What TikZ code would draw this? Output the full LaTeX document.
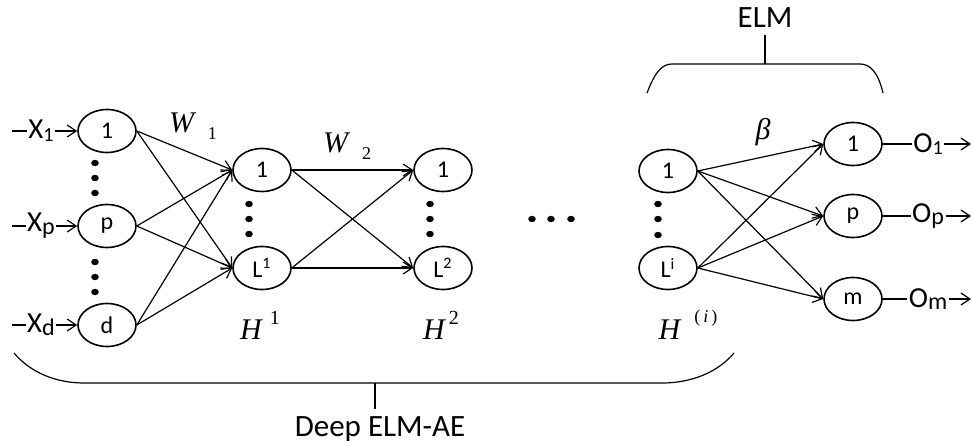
\documentclass[tikz,border=0pt]{standalone}
\usepackage{fontspec}
\setmainfont{Carlito}
\newfontfamily\timesit{Liberation Serif}
\usetikzlibrary{shapes.geometric,arrows.meta}

\tikzset{
  neuron/.style={draw, thick, ellipse, minimum width=29pt, minimum height=21.5pt,
    inner sep=0pt, font=\fontsize{12}{13}\selectfont},
  wire/.style={-{Straight Barb[length=4.5pt,width=6pt]}},
  iolabel/.style={inner sep=0.5pt, font=\fontsize{14.5}{16}\selectfont},
  layerlabel/.style={font=\fontsize{15}{17}\timesit\itshape},
}

\begin{document}
\begin{tikzpicture}[x=0.5pt,y=-0.5pt,line width=0.6pt]
  \useasboundingbox (0,0) rectangle (972,443);

  % Input layer
  \node[neuron] (in1) at (107,131) {1};
  \node[neuron] (inp) at (107,226) {p};
  \node[neuron] (ind) at (107,325) {d};
  \foreach \y in {163,178,193,262,277,292}
    \fill (95,\y) ellipse (3.8 and 3.2);

  % Inputs
  \coordinate (xs1) at (12,131);
  \coordinate (xsp) at (12,226);
  \coordinate (xsd) at (12,325);
  \node[iolabel] (x1) at (41,131) {X\raisebox{-.2ex}{\fontsize{10}{9}\selectfont 1}};
  \node[iolabel] (xp) at (41,226) {X\raisebox{-.2ex}{\fontsize{12}{9}\selectfont p}};
  \node[iolabel] (xd) at (41,325) {X\raisebox{-.2ex}{\fontsize{12}{9}\selectfont d}};
  \foreach \i in {1,p,d} {
    \draw (xs\i) -- (x\i);
    \draw[wire] (x\i) -- (in\i.west);
  }

  % Hidden layer 1
  \node[neuron] (ha1) at (262,170) {1};
  \node[neuron] (haL) at (262,268) {L\textsuperscript{1}};
  \foreach \y in {204,219,234}
    \fill (249,\y) ellipse (3.8 and 3.2);

  % Hidden layer 2
  \node[neuron] (hb1) at (443,170) {1};
  \node[neuron] (hbL) at (443,268) {L\textsuperscript{2}};
  \foreach \y in {204,219,234}
    \fill (430,\y) ellipse (3.8 and 3.2);

  % More layers
  \foreach \x in {532,551,571}
    \fill (\x,219) ellipse (3.8 and 3.2);

  % Hidden layer i
  \node[neuron] (hi1) at (668,171) {1};
  \node[neuron] (hiL) at (668,268) {L\textsuperscript{i}};
  \foreach \y in {204,219,235}
    \fill (658,\y) ellipse (3.8 and 3.2);

  % Output layer
  \node[neuron] (out1) at (853,144) {1};
  \node[neuron] (outp) at (853,216) {p};
  \node[neuron] (outm) at (853,299) {m};

  % Connections
  \foreach \a in {in1,inp,ind}
    \foreach \b in {ha1,haL}
      \draw[wire] (\a.east) -- (\b.west);
  \foreach \a in {ha1,haL}
    \foreach \b in {hb1,hbL}
      \draw[wire] (\a.east) -- (\b.west);
  \foreach \a in {hi1,hiL}
    \foreach \b in {out1,outp,outm}
      \draw[wire] (\a.east) -- (\b.west);

  % Outputs
  \node[iolabel] (o1) at (928,144) {O\raisebox{-.2ex}{\fontsize{10}{9}\selectfont 1}};
  \node[iolabel] (op) at (928,216) {O\raisebox{-.2ex}{\fontsize{12}{9}\selectfont p}};
  \node[iolabel] (om) at (928,299) {O\raisebox{-.2ex}{\fontsize{12}{9}\selectfont m}};
  \coordinate (oe1) at (971,144);
  \coordinate (oep) at (971,216);
  \coordinate (oem) at (971,299);
  \draw (out1) -- (o1);
  \draw (outp) -- (op);
  \draw (outm) -- (om);
  \draw[wire] (o1) -- (oe1);
  \draw[wire] (op) -- (oep);
  \draw[wire] (om) -- (oem);

  % Weights
  \node[layerlabel] (w1) at (193,126) {W\hspace{7pt}\raisebox{-.5ex}{\upshape\fontsize{9}{9}\selectfont 1}};
  \node[layerlabel] (w2) at (347,146) {W\hspace{7pt}\raisebox{-.5ex}{\upshape\fontsize{9}{9}\selectfont 2}};
  \node[layerlabel] (beta) at (763,132) {β};

  % Layer names
  \node[layerlabel] (lh1) at (260,325) {H\hspace{4pt}\raisebox{1.1ex}{\upshape\fontsize{10}{9}\selectfont 1}};
  \node[layerlabel] (lh2) at (441,325) {H\hspace{2pt}\raisebox{1.1ex}{\upshape\fontsize{10}{9}\selectfont 2}};
  \node[layerlabel] (lhi) at (688,325) {H\hspace{7pt}\raisebox{1.2ex}{\upshape\fontsize{9}{9}\selectfont(\,\itshape i\upshape\,)}};

  % ELM brace
  \draw (647,93) .. controls (655,72) and (662,64) .. (672,64) -- (860,64)
        .. controls (870,64) and (878,72) .. (883,93);
  \coordinate (elmtop) at (765,64);
  \node[font=\fontsize{15.5}{17}\selectfont] (elm) at (765,18) {ELM};
  \draw (elmtop) -- (elm.south);

  % Deep ELM-AE brace
  \draw (14,353) .. controls (30,372) and (55,383) .. (84,383) -- (662,383)
        .. controls (692,383) and (718,372) .. (734,353);
  \coordinate (aetop) at (375,383);
  \node[font=\fontsize{15.5}{17}\selectfont] (ae) at (380,429) {Deep ELM-AE};
  \draw (aetop) -- (ae.north -| aetop);
\end{tikzpicture}
\end{document}
